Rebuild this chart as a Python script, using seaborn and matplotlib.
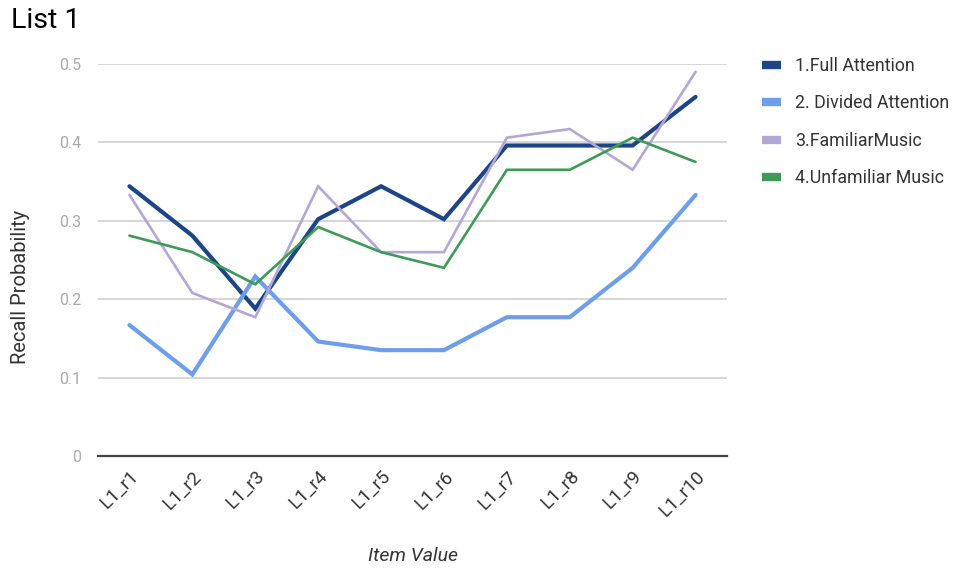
import matplotlib
matplotlib.use("Agg")
import matplotlib.pyplot as plt
from matplotlib.lines import Line2D
import pandas as pd
import seaborn as sns

items = ["L1_r1", "L1_r2", "L1_r3", "L1_r4", "L1_r5",
         "L1_r6", "L1_r7", "L1_r8", "L1_r9", "L1_r10"]
full_attention = [0.344, 0.281, 0.188, 0.302, 0.344, 0.302, 0.396, 0.396, 0.396, 0.458]
divided_attention = [0.167, 0.104, 0.229, 0.146, 0.135, 0.135, 0.177, 0.177, 0.240, 0.333]
familiar_music = [0.333, 0.208, 0.177, 0.344, 0.260, 0.260, 0.406, 0.417, 0.365, 0.490]
unfamiliar_music = [0.281, 0.260, 0.219, 0.292, 0.260, 0.240, 0.365, 0.365, 0.406, 0.375]

series_names = ["1.Full Attention", "2. Divided Attention",
                "3.FamiliarMusic", "4.Unfamiliar Music"]
series_values = [full_attention, divided_attention, familiar_music, unfamiliar_music]
colors = ["#1c4587", "#6d9eeb", "#b4a7d6", "#3d9a57"]
widths = [3.0, 3.0, 1.9, 1.9]

sns.set_theme(style="white")
plt.rcParams["font.family"] = ["Roboto", "DejaVu Sans"]

frames = []
for name, vals in zip(series_names, series_values):
    frames.append(pd.DataFrame({"item": list(range(len(items))),
                                "prob": vals, "series": name}))
df = pd.concat(frames, ignore_index=True)

fig = plt.figure(figsize=(9.57, 5.69), dpi=100)
ax = fig.add_axes([0.1024, 0.1986, 0.6573, 0.689])

for name, color, lw in zip(series_names, colors, widths):
    sub = df[df["series"] == name]
    sns.lineplot(data=sub, x="item", y="prob", color=color, linewidth=lw,
                 ax=ax, legend=False, solid_joinstyle="miter")

ax.set_xlim(-0.5, len(items) - 0.5)
ax.set_ylim(0, 0.5)
ax.set_yticks([0, 0.1, 0.2, 0.3, 0.4, 0.5])
ax.set_yticklabels(["0", "0.1", "0.2", "0.3", "0.4", "0.5"])
ax.set_xticks(range(len(items)))
ax.set_xticklabels(items, rotation=45, ha="right", rotation_mode="anchor")
ax.tick_params(axis="y", colors="#aaaaaa", labelsize=11.5, length=0, pad=12)
ax.tick_params(axis="x", labelcolor="#333333", labelsize=13.5, length=0, pad=8)
for lbl in ax.get_xticklabels():
    lbl.set_color("#333333")

ax.grid(axis="y", color="#cccccc", linewidth=1.1)
ax.grid(axis="x", visible=False)
ax.set_axisbelow(True)
for side in ["top", "right", "left"]:
    ax.spines[side].set_visible(False)
ax.spines["bottom"].set_color("#444444")
ax.spines["bottom"].set_linewidth(1.6)
ax.spines["bottom"].set_zorder(5)

ax.set_ylabel("Recall Probability", fontsize=14.5, color="#333333")
ax.yaxis.set_label_coords(-0.108, 0.431)
ax.set_xlabel("Item Value", fontsize=14, color="#333333", style="italic")
ax.xaxis.set_label_coords(0.5, -0.232)

fig.text(0.012, 0.987, "List 1", fontsize=20.5, color="#000000", va="top", ha="left")

handles = [Line2D([0], [0], color=c, linewidth=6, solid_capstyle="butt")
           for c in colors]
fig.legend(handles, series_names, loc="upper left",
           bbox_to_anchor=(0.783, 0.922), frameon=False,
           fontsize=12.8, labelcolor="#333333", handlelength=1.1,
           handletextpad=0.75, labelspacing=1.1, borderpad=0.2)

fig.savefig("out.png", dpi=100)
